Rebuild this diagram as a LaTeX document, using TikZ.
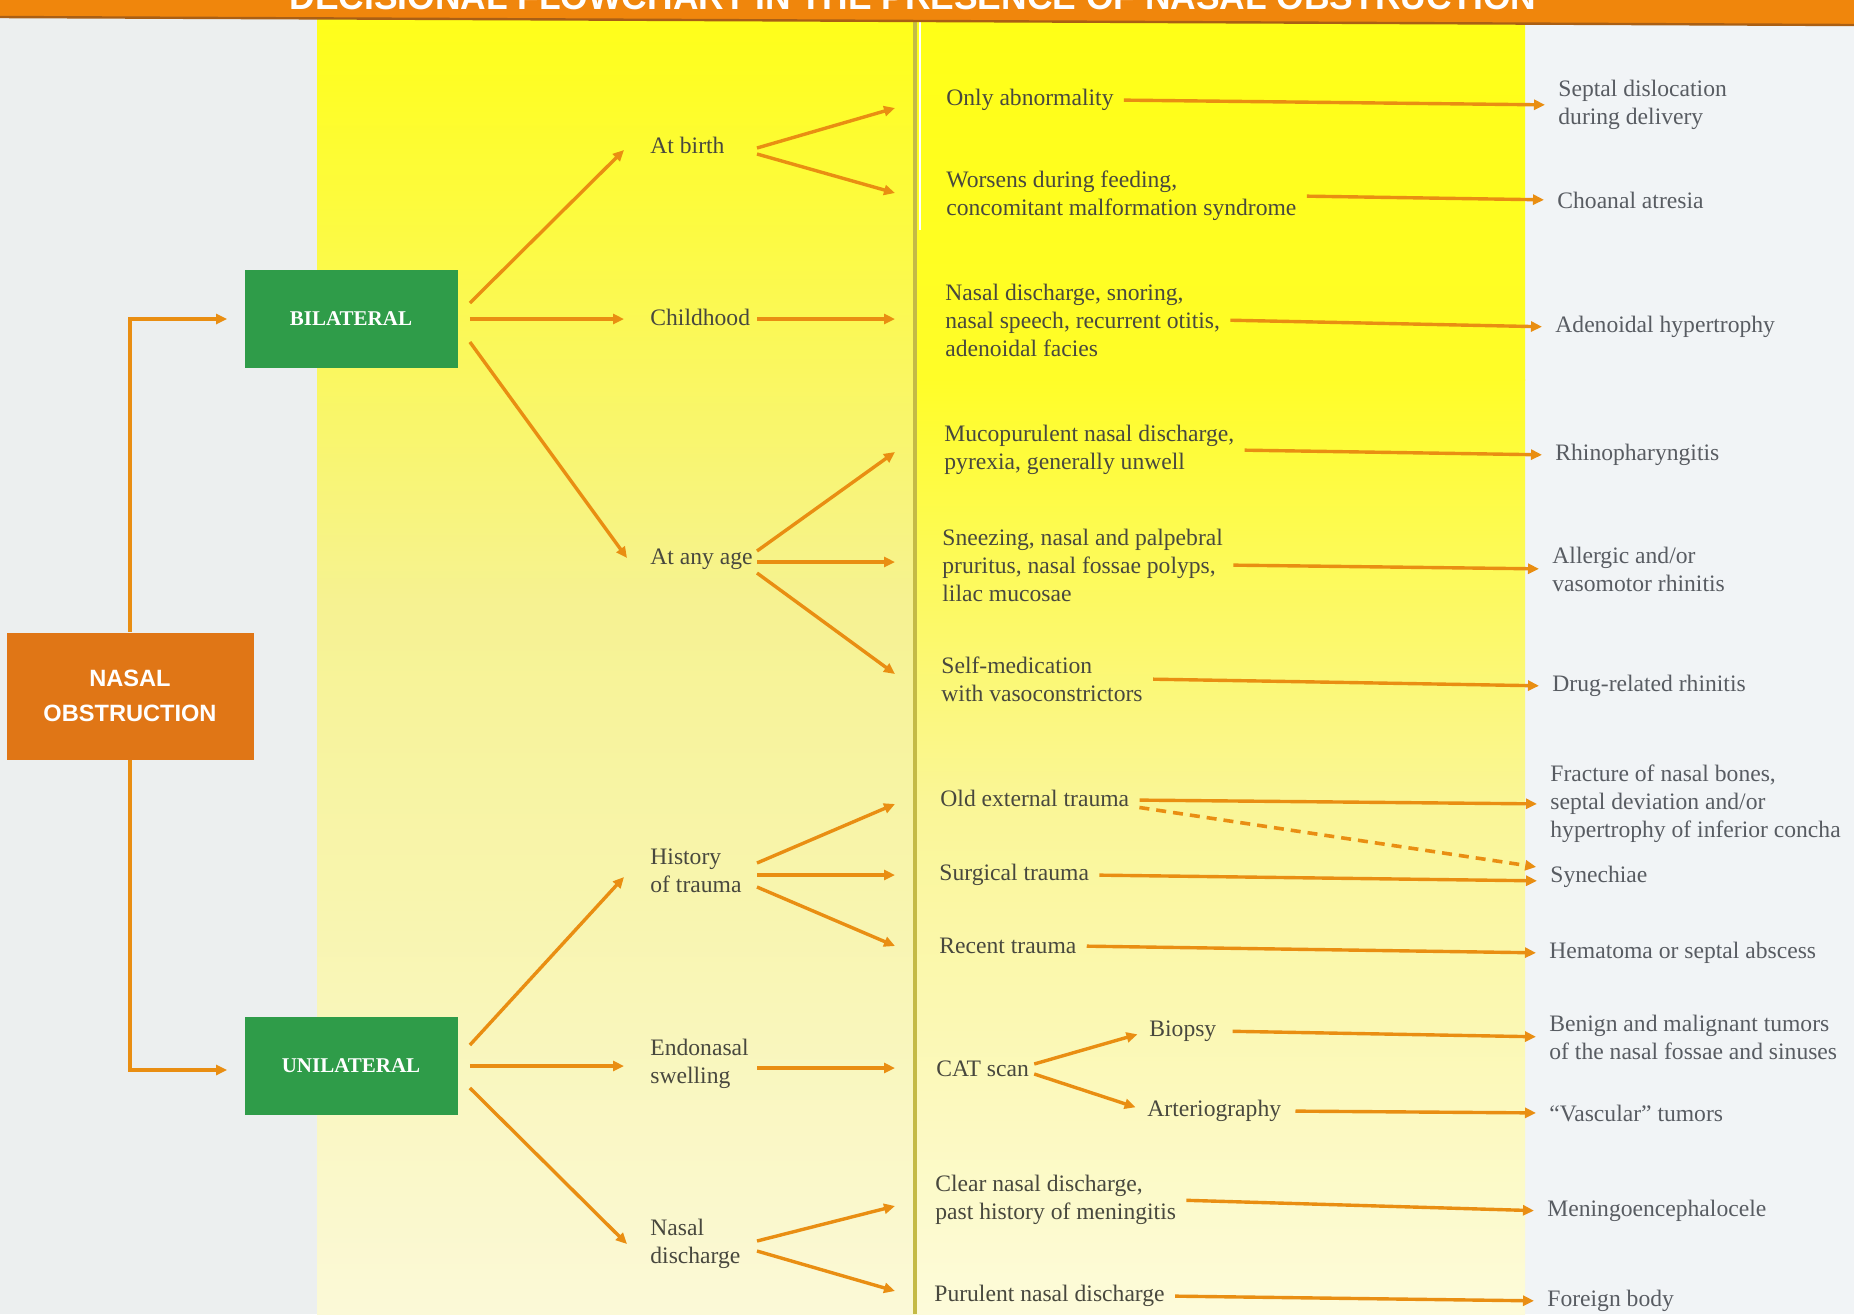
\documentclass[tikz,border=0pt]{standalone}
\usepackage{fontspec}
\setmainfont{Liberation Serif}
\newfontfamily\sansfam{Liberation Sans}
\usetikzlibrary{arrows.meta,calc}
\definecolor{leftbg}{RGB}{236,239,239}
\definecolor{rightbg}{RGB}{241,244,246}
\definecolor{ytop}{RGB}{255,255,22}
\definecolor{ylA}{RGB}{252,250,70}
\definecolor{ylB}{RGB}{246,242,145}
\definecolor{ylC}{RGB}{251,249,215}
\definecolor{yrA}{RGB}{255,253,40}
\definecolor{yrB}{RGB}{250,246,150}
\definecolor{yrC}{RGB}{253,251,218}
\definecolor{bandor}{RGB}{240,134,12}
\definecolor{bandsh}{RGB}{170,95,20}
\definecolor{lineor}{RGB}{233,142,18}
\definecolor{boxor}{RGB}{224,118,22}
\definecolor{boxgr}{RGB}{47,156,73}
\definecolor{txtd}{RGB}{72,72,62}
\definecolor{txtr}{RGB}{88,92,98}
\definecolor{gutter}{RGB}{196,186,70}
\begin{document}
\begin{tikzpicture}[x=0.5pt,y=-0.5pt,
  txt/.style={font=\fontsize{11.8}{14}\selectfont, text=txtd, align=left, anchor=west, inner sep=0pt},
  res/.style={txt, text=txtr},
  greenbox/.style={fill=boxgr, text=white, font=\bfseries\fontsize{10.5}{12}\selectfont, minimum width=106.5pt, minimum height=49pt, inner sep=0pt},
  arr/.style={draw=lineor, line width=1.7pt, -{Triangle[length=5.5pt,width=5pt]}},
  hz/.style={arr, shorten <=5pt, shorten >=6.5pt},
  dsh/.style={arr, dash pattern=on 5pt off 3.5pt, line width=1.8pt}
]
\useasboundingbox (0,0) rectangle (1854,1314);
% ---- backgrounds
\fill[leftbg] (0,0) rectangle (317,1314);
\fill[rightbg] (1525,0) rectangle (1854,1314);
\shade[top color=ytop, bottom color=ylA] (317,0) rectangle (916,250);
\shade[top color=ylA, bottom color=ylB] (317,249) rectangle (916,600);
\shade[top color=ylB, bottom color=ylC] (317,599) rectangle (916,1314);
\shade[top color=ytop, bottom color=yrA] (916,0) rectangle (1525,380);
\shade[top color=yrA, bottom color=yrB] (916,379) rectangle (1525,800);
\shade[top color=yrB, bottom color=yrC] (916,799) rectangle (1525,1314);
\draw[gutter, line width=1.6pt] (915,22) -- (915,1314);
\draw[white, line width=1.2pt] (920,22) -- (920,230);
% ---- title band
\fill[bandor] (0,0) -- (1854,0) -- (1854,25) -- (0,17) -- cycle;
\draw[bandsh, line width=1.2pt] (0,17) -- (1854,25);
\begin{scope}
  \clip (0,0) -- (1854,0) -- (1854,24) -- (0,16) -- cycle;
  \node[anchor=base, inner sep=0pt, text=white, font=\sansfam\bfseries\fontsize{17.7}{20}\selectfont] (title) at (913,9) {DECISIONAL FLOWCHART IN THE PRESENCE OF NASAL OBSTRUCTION};
\end{scope}
% ---- level 0 / 1
\node[fill=boxor, text=white, font=\sansfam\bfseries\fontsize{11.8}{17.5}\selectfont, align=center, minimum width=123.5pt, minimum height=63.5pt, inner sep=0pt] (nasal) at (130,696) {NASAL\\OBSTRUCTION};
\node[greenbox] (bil) at (351,319) {BILATERAL};
\node[greenbox] (uni) at (351,1066) {UNILATERAL};
\draw[arr] (nasal.north) |- ($(bil.west)+(-17,0)$);
\draw[arr] (nasal.south) |- ($(uni.west)+(-17,4)$);
% ---- level 2
\node[txt] (atbirth) at (650,145) {At birth};
\node[txt] (childhood) at (650,317) {Childhood};
\node[txt] (anyage) at (650,559) {At any age};
\node[txt] (history) at (650,871) {History\\of trauma};
\node[txt] (endonasal) at (650,1064) {Endonasal\\swelling};
\node[txt] (nasaldis) at (650,1244) {Nasal\\discharge};
\draw[arr] ($(bil.east)+(12,-16)$) -- ($(atbirth.west)+(-26,5)$);
\draw[arr] ($(bil.east)+(12,0)$) -- ($(childhood.west)+(-26,2)$);
\draw[arr] ($(bil.east)+(12,23)$) -- ($(anyage.west)+(-23,-1)$);
\draw[arr] ($(uni.east)+(12,-21)$) -- ($(history.west)+(-26,6)$);
\draw[arr] ($(uni.east)+(12,0)$) -- ($(endonasal.west)+(-26,2)$);
\draw[arr] ($(uni.east)+(12,22)$) -- ($(nasaldis.west)+(-23,0)$);
% ---- level 3
\node[txt] (onlyab) at (946,100) {Only abnormality};
\node[txt] (worsens) at (946,196) {Worsens during feeding,\\concomitant malformation syndrome};
\node[txt] (snoring) at (945,320) {Nasal discharge, snoring,\\nasal speech, recurrent otitis,\\adenoidal facies};
\node[txt] (mucop) at (944,450) {Mucopurulent nasal discharge,\\pyrexia, generally unwell};
\node[txt] (sneez) at (942,565) {Sneezing, nasal and palpebral\\pruritus, nasal fossae polyps,\\lilac mucosae};
\node[txt] (selfmed) at (941,679) {Self-medication\\with vasoconstrictors};
\node[txt] (oldext) at (940,798) {Old external trauma};
\node[txt] (surg) at (939,875) {Surgical trauma};
\node[txt] (recent) at (939,946) {Recent trauma};
\node[txt] (cat) at (936,1069) {CAT scan};
\node[txt] (biopsy) at (1149,1031) {Biopsy};
\node[txt] (arterio) at (1147,1111) {Arteriography};
\node[txt] (clear) at (935,1200) {Clear nasal discharge,\\past history of meningitis};
\node[txt] (purulent) at (934,1296) {Purulent nasal discharge};
% level 2 -> level 3 (columns)
\coordinate (cL) at (757,0);
\coordinate (cR) at (895,0);
\draw[arr] ($(atbirth.west -| cL)+(0,3)$) -- ($(onlyab.west -| cR)+(0,8)$);
\draw[arr] ($(atbirth.west -| cL)+(0,9)$) -- ($(worsens.west -| cR)+(0,-3)$);
\draw[arr] ($(childhood.west -| cL)+(0,2)$) -- ($(snoring.west -| cR)+(0,-1)$);
\draw[arr] ($(anyage.west -| cL)+(0,-8)$) -- ($(mucop.west -| cR)+(0,2)$);
\draw[arr] ($(anyage.west -| cL)+(0,3)$) -- ($(sneez.west -| cR)+(0,-3)$);
\draw[arr] ($(anyage.west -| cL)+(0,14)$) -- ($(selfmed.west -| cR)+(0,-5)$);
\draw[arr] ($(history.west -| cL)+(0,-8)$) -- ($(oldext.west -| cR)+(0,6)$);
\draw[arr] ($(history.west -| cL)+(0,4)$) -- (surg.west -| cR);
\draw[arr] ($(history.west -| cL)+(0,16)$) -- (recent.west -| cR);
\draw[arr] ($(endonasal.west -| cL)+(0,4)$) -- ($(cat.west -| cR)+(0,-1)$);
\draw[arr] ($(nasaldis.west -| cL)+(0,-3)$) -- ($(clear.west -| cR)+(0,6)$);
\draw[arr] ($(nasaldis.west -| cL)+(0,7)$) -- ($(purulent.west -| cR)+(0,-5)$);
% CAT scan fork
\draw[arr, shorten >=6pt] ($(cat.east)+(5,-5)$) -- (biopsy.west);
\draw[arr, shorten >=6pt] ($(cat.east)+(5,5)$) -- (arterio.west);
% ---- results
\node[res] (septal) at (1558,105) {Septal dislocation\\during delivery};
\node[res] (choanal) at (1557,200) {Choanal atresia};
\node[res] (adenoidal) at (1555,327) {Adenoidal hypertrophy};
\node[res] (rhino) at (1555,455) {Rhinopharyngitis};
\node[res] (allergic) at (1552,569) {Allergic and/or\\vasomotor rhinitis};
\node[res] (drug) at (1552,686) {Drug-related rhinitis};
\node[res] (fracture) at (1550,804) {Fracture of nasal bones,\\septal deviation and/or\\hypertrophy of inferior concha};
\node[res] (synechiae) at (1550,877) {Synechiae};
\node[res] (hematoma) at (1549,953) {Hematoma or septal abscess};
\node[res] (benign) at (1549,1037) {Benign and malignant tumors\\of the nasal fossae and sinuses};
\node[res] (vascular) at (1549,1113) {“Vascular” tumors};
\node[res] (meningo) at (1547,1211) {Meningoencephalocele};
\node[res] (foreign) at (1547,1301) {Foreign body};
% level 3 -> results
\draw[hz] (onlyab.east) -- (septal.west);
\draw[hz] (worsens.east) -- (choanal.west);
\draw[hz] (snoring.east) -- (adenoidal.west);
\draw[hz] (mucop.east) -- (rhino.west);
\draw[hz] (sneez.east) -- (allergic.west);
\draw[hz] (selfmed.east) -- (drug.west);
\draw[hz] ($(oldext.east)+(0,2)$) -- (fracture.west);
\draw[dsh, shorten <=5pt, shorten >=7pt] ($(oldext.east)+(0,8)$) -- ($(synechiae.west)+(0,-8)$);
\draw[hz] (surg.east) -- ($(synechiae.west)+(0,4)$);
\draw[hz] (recent.east) -- (hematoma.west);
\draw[hz, shorten <=8pt] (biopsy.east) -- (benign.west);
\draw[hz, shorten <=7pt] (arterio.east) -- (vascular.west);
\draw[hz] (clear.east) -- (meningo.west);
\draw[hz] (purulent.east) -- (foreign.west);
\end{tikzpicture}
\end{document}
